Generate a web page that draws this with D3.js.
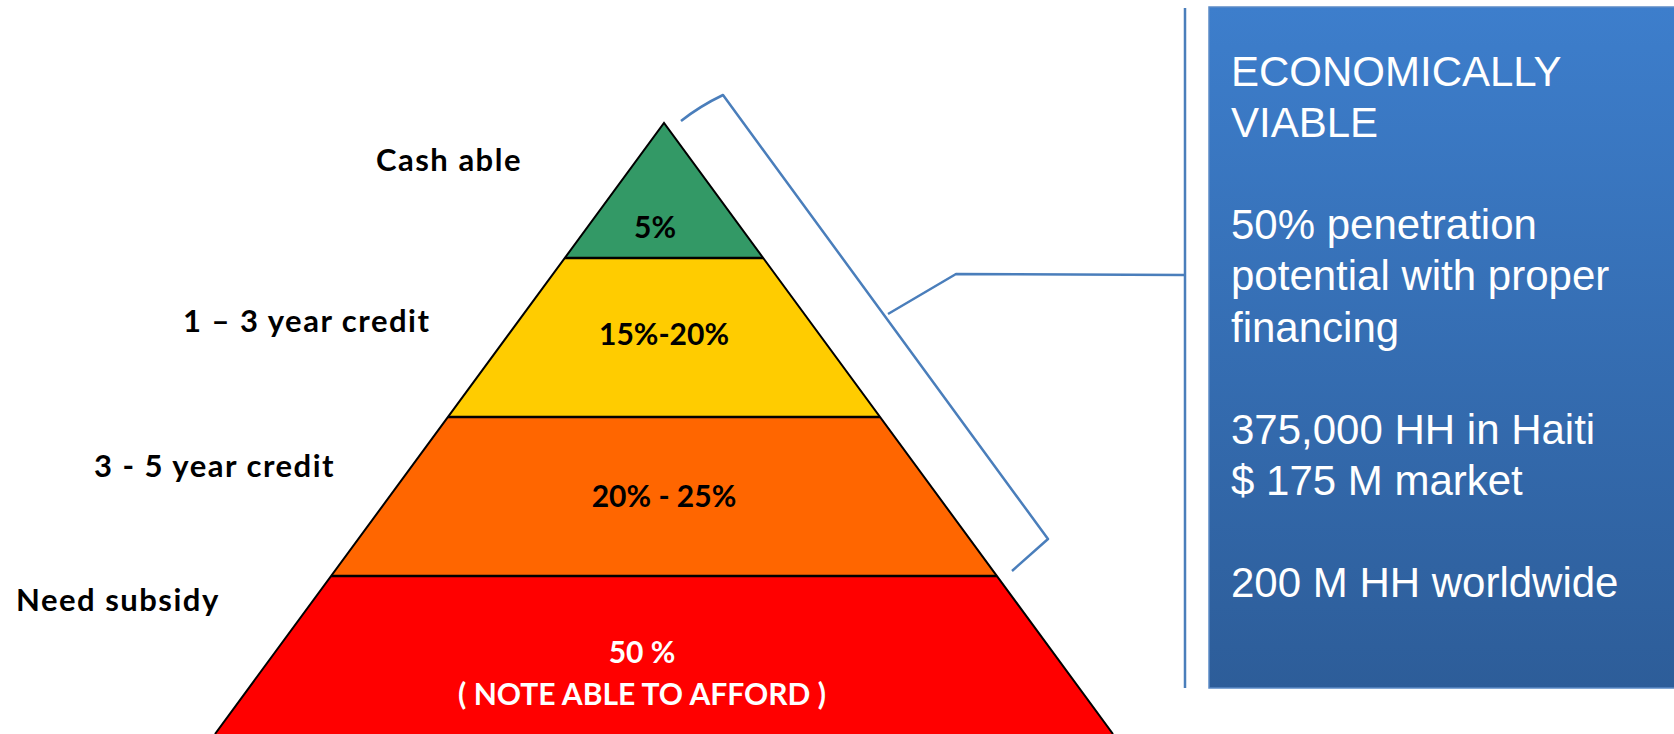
<!DOCTYPE html>
<html>
<head>
<meta charset="utf-8">
<script src="https://cdn.jsdelivr.net/npm/d3@7"></script>
<style>
  body { margin: 0; background: #fff; }
  svg { display: block; }
  .tier-label { font-family: Lato, "Open Sans", sans-serif; font-weight: 700; }
  .box-text { font-family: "Liberation Sans", Arial, sans-serif; fill: #fff; }
</style>
</head>
<body>
<div id="chart"></div>
<script>
'use strict';

// tiers, top of pyramid first
var tierNames = ["Cash able", "1 \u2013 3 year credit", "3 - 5 year credit", "Need subsidy"];
var tierShares = [["5%"], ["15%-20%"], ["20% - 25%"], ["50 %", "( NOTE ABLE TO AFFORD )"]];
var tierColors = ["#339966", "#ffcc00", "#ff6600", "#ff0000"];
var tierTextColors = ["#000", "#000", "#000", "#fff"];

var calloutLines = [
  "ECONOMICALLY", "VIABLE", "",
  "50% penetration", "potential with proper", "financing", "",
  "375,000 HH in Haiti", "$ 175 M market", "",
  "200 M HH worldwide"
];

var width = 1674, height = 734;

// pyramid layout: depth below the apex of each tier edge
var apex = {x: 664, y: 123};
var tierEdges = [0, 135, 294, 453, 611];
var baseHalf = 449;

// side labels (left of pyramid)
var nameX = [376, 183, 94, 16],
    nameY = [171, 332, 477, 611];
// offsets of share labels from pyramid centre
var shareDx = [-9, 0, 0, -22],
    shareY = [238, 345, 507, 663];

var svg = d3.select("#chart").append("svg")
  .attr("width", width)
  .attr("height", height);

var half = d3.scaleLinear().domain([0, tierEdges[4]]).range([0, baseHalf]);
var depth = d3.scaleLinear().domain([0, 1]).range([apex.y, apex.y + 1]);

var tiers = tierNames.map(function(n, i) {
  return {name: n, share: tierShares[i], top: tierEdges[i], bottom: tierEdges[i + 1], i: i};
});

// bands
svg.append("g").attr("class", "tiers")
  .selectAll("path")
  .data(tiers)
  .enter().append("path")
  .attr("d", function(d) {
    var y0 = depth(d.top), y1 = depth(d.bottom);
    return "M" + (apex.x - half(d.top)) + "," + y0 +
      "L" + (apex.x + half(d.top)) + "," + y0 +
      "L" + (apex.x + half(d.bottom)) + "," + y1 +
      "L" + (apex.x - half(d.bottom)) + "," + y1 + "Z";
  })
  .attr("fill", function(d) { return tierColors[d.i]; })
  .attr("stroke", "none");

// outline and dividers
var outline = svg.append("g").attr("stroke", "#000").attr("fill", "none");
outline.append("path")
  .attr("stroke-width", 2)
  .attr("d", "M" + (apex.x - half(tierEdges[4])) + "," + depth(tierEdges[4]) +
    "L" + apex.x + "," + apex.y +
    "L" + (apex.x + half(tierEdges[4])) + "," + depth(tierEdges[4]));
outline.selectAll("line")
  .data(tierEdges.slice(1, 4))
  .enter().append("line")
  .attr("stroke-width", 2.5)
  .attr("x1", function(d) { return apex.x - half(d); })
  .attr("x2", function(d) { return apex.x + half(d); })
  .attr("y1", function(d) { return depth(d); })
  .attr("y2", function(d) { return depth(d); });

// share labels inside
svg.append("g").selectAll("text")
  .data(tiers)
  .enter().append("text")
  .attr("class", "tier-label")
  .attr("text-anchor", "middle")
  .attr("font-size", 30)
  .attr("fill", function(d) { return tierTextColors[d.i]; })
  .each(function(d) {
    var t = d3.select(this);
    d.share.forEach(function(s, k) {
      t.append("tspan")
        .attr("x", apex.x + shareDx[d.i])
        .attr("y", shareY[d.i] + k * 42)
        .text(s);
    });
  });

// names on the left
svg.append("g").selectAll("text")
  .data(tiers)
  .enter().append("text")
  .attr("class", "tier-label")
  .attr("font-size", 31)
  .attr("letter-spacing", 1.5)
  .attr("fill", "#000")
  .attr("x", function(d) { return nameX[d.i]; })
  .attr("y", function(d) { return nameY[d.i]; })
  .text(function(d) { return d.name; });

// bracket + connector
var blue = "#4a7ebb";
var line = d3.line().curve(d3.curveLinear);
var bracket = svg.append("g").attr("fill", "none").attr("stroke", blue)
  .attr("stroke-width", 2.5).attr("stroke-linejoin", "round");
bracket.append("path")
  .attr("d", "M681,121Q700,106 723,95" + line([[723, 95], [1048, 539], [1012, 571]]).replace("M", "L"));
bracket.append("path")
  .attr("d", line([[888, 314], [956, 274], [1185, 275]]));
bracket.append("line")
  .attr("x1", 1185).attr("x2", 1185).attr("y1", 8).attr("y2", 688);

// callout box
var defs = svg.append("defs");
var grad = defs.append("linearGradient").attr("id", "boxGrad")
  .attr("x1", 0).attr("y1", 0).attr("x2", 0).attr("y2", 1);
grad.append("stop").attr("offset", "0%").attr("stop-color", "#3d7ecc");
grad.append("stop").attr("offset", "100%").attr("stop-color", "#2d5d99");

svg.append("rect")
  .attr("x", 1209).attr("y", 7)
  .attr("width", width - 1209 + 2).attr("height", 681)
  .attr("fill", "url(#boxGrad)")
  .attr("stroke", "#5b8ac6").attr("stroke-width", 1.5);

var lineY = d3.scaleLinear().domain([0, 1]).range([86, 137.1]);
svg.append("g").selectAll("text")
  .data(calloutLines)
  .enter().append("text")
  .attr("class", "box-text")
  .attr("font-size", 42)
  .attr("x", 1231)
  .attr("y", function(d, i) { return lineY(i); })
  .text(function(d) { return d; });
</script>
</body>
</html>
